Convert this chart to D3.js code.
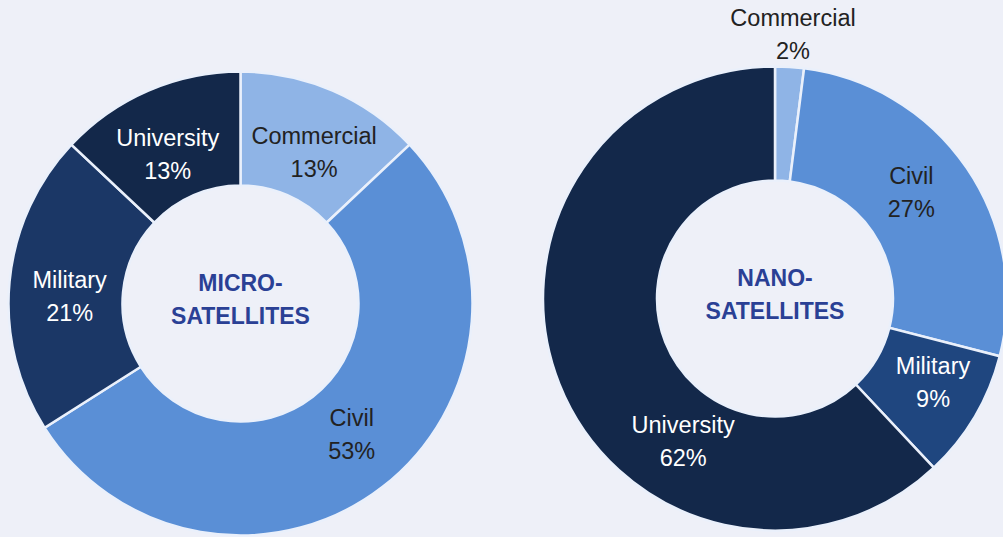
<!DOCTYPE html>
<html>
<head>
<meta charset="utf-8">
<script src="https://cdn.jsdelivr.net/npm/d3@7"></script>
<style>
  html, body { margin: 0; padding: 0; background: #eef0f8; }
  svg { display: block; }
  text { font-family: "Liberation Sans", Arial, Helvetica, sans-serif; }
</style>
</head>
<body>
<svg id="chart" width="1003" height="537"></svg>
<script>
// Satellite missions by operator type
const categories = ["Commercial", "Civil", "Military", "University"];
const microValues = [13, 53, 21, 13];
const nanoValues = [2, 27, 9, 62];
const centerTitles = [["MICRO-", "SATELLITES"], ["NANO-", "SATELLITES"]];

const colorByCategory = {
  Commercial: "#8fb4e6",
  Civil: "#5a8fd6",
  Military: "#1b3766",
  University: "#13284a"
};
const darkText = new Set(["Commercial", "Civil"]);

const svg = d3.select("#chart");
const W = 1003, H = 537;
svg.append("rect").attr("width", W).attr("height", H).attr("fill", "#eef0f8");

const outerR = 232, innerR = 118;

// Label placement: [angle in degrees clockwise from 12 o'clock, radius]
const charts = [
  { values: microValues, cx: 240.5, cy: 303.5, title: centerTitles[0],
    colors: {},
    labelPos: { Commercial: [26, 168], Civil: [139.7, 172], Military: [272.3, 171], University: [334, 166] },
    outside: {} },
  { values: nanoValues, cx: 775, cy: 298.5, title: centerTitles[1],
    colors: { Military: "#1f467f" },
    labelPos: { Commercial: [3.9, 265], Civil: [52, 173], Military: [118, 179], University: [212.7, 170] },
    outside: { Commercial: true } }
];

const pie = d3.pie().sort(null).value(d => d.value)
  .startAngle(0).endAngle(2 * Math.PI);
const arc = d3.arc().innerRadius(innerR).outerRadius(outerR);

charts.forEach(c => {
  const rows = categories.map((k, i) => ({ key: k, value: c.values[i] }));
  const g = svg.append("g").attr("transform", `translate(${c.cx},${c.cy})`);
  const arcs = pie(rows);

  g.selectAll("path.slice").data(arcs).join("path")
    .attr("class", "slice")
    .attr("d", arc)
    .attr("fill", d => c.colors[d.data.key] || colorByCategory[d.data.key])
    .attr("stroke", "#eaf0fb")
    .attr("stroke-width", 2.5)
    .attr("stroke-linejoin", "miter");

  arcs.forEach(d => {
    const outside = !!c.outside[d.data.key];
    const p = c.labelPos[d.data.key];
    const a = p ? p[0] * Math.PI / 180 : (d.startAngle + d.endAngle) / 2;
    const r = p ? p[1] : 170;
    const x = Math.sin(a) * r;
    const y = -Math.cos(a) * r;
    const fill = (outside || darkText.has(d.data.key)) ? "#222222" : "#ffffff";
    const t = g.append("text")
      .attr("text-anchor", "middle")
      .attr("font-size", 23.5)
      .attr("fill", fill);
    t.append("tspan").attr("x", x).attr("y", y - 16.5).attr("dy", "0.35em").text(d.data.key);
    t.append("tspan").attr("x", x).attr("y", y + 16.5).attr("dy", "0.35em").text(d.data.value + "%");
  });

  const ct = g.append("text")
    .attr("text-anchor", "middle")
    .attr("font-size", 23)
    .attr("font-weight", "bold")
    .attr("fill", "#2a4095");
  ct.append("tspan").attr("x", 0).attr("y", -21).attr("dy", "0.35em").text(c.title[0]);
  ct.append("tspan").attr("x", 0).attr("y", 12).attr("dy", "0.35em").text(c.title[1]);
});
</script>
</body>
</html>
